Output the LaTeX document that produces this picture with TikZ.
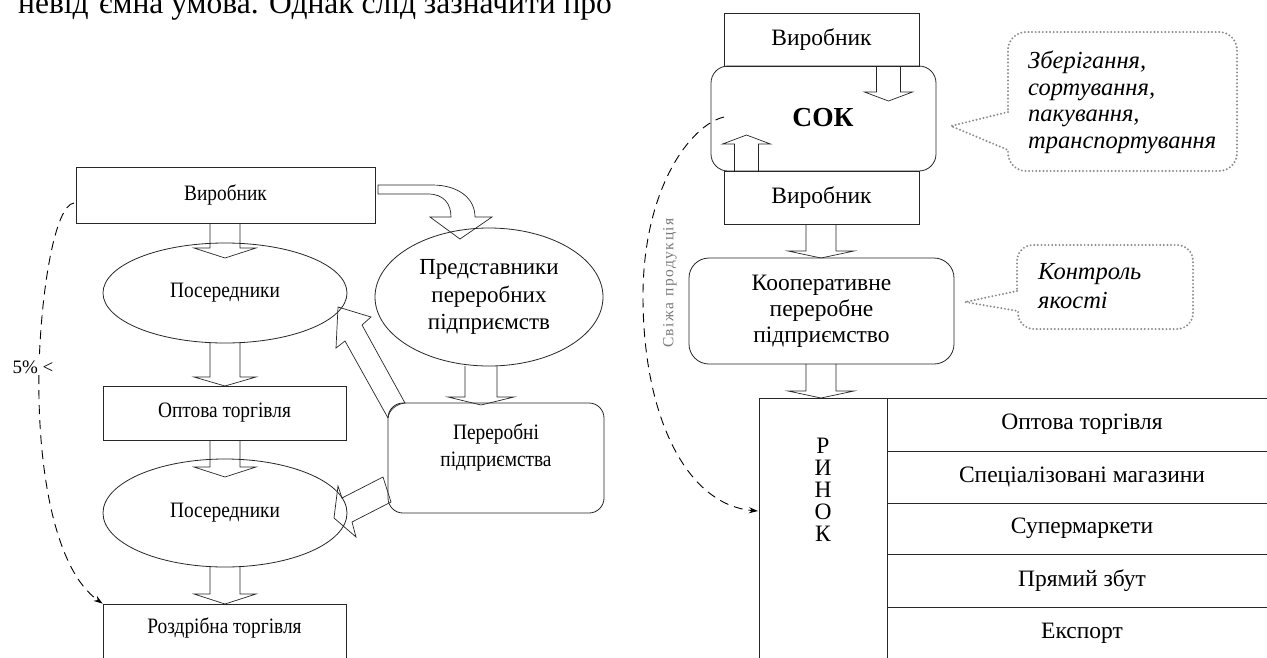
\documentclass[tikz,border=0pt]{standalone}
\usepackage{fontspec}
\setmainfont{Liberation Serif}
\newfontfamily\condfont[FakeStretch=0.88]{Liberation Serif}
\usetikzlibrary{arrows.meta,shapes.geometric,calc}
\newcommand\vblk[6]{\draw[blk] (#1-#5,#2) -- (#1-#5,#3) -- (#1-#6,#3) -- (#1,#4) -- (#1+#6,#3) -- (#1+#5,#3) -- (#1+#5,#2);}
\begin{document}
\begin{tikzpicture}[x=1pt,y=-1pt,
  box/.style={draw=black!85, line width=0.8pt, inner sep=0pt, align=center},
  lfont/.style={font=\condfont\fontsize{22}{27}\selectfont},
  rfont/.style={font=\fontsize{23.5}{26}\selectfont},
  itfont/.style={font=\itshape\fontsize{24.5}{26}\selectfont, anchor=base west, inner sep=0pt},
  blk/.style={draw=black!85, line width=0.7pt, line join=miter},
  dashline/.style={draw=black, dash pattern=on 9pt off 6pt, line width=0.9pt},
  callout/.style={draw=gray!90, line width=2.2pt, dash pattern=on 0pt off 3.6pt, line cap=round}]
\useasboundingbox (0,0) rectangle (1267,657);

% top body text (cut off)
\node[anchor=base west, inner sep=0pt, font=\fontsize{31.5}{36}\selectfont] (toptext) at (18,13)
  {невід’ємна умова. Однак слід зазначити про};

% ---------------- left diagram ----------------
\node[box, minimum width=299pt, minimum height=56pt, lfont] (v1) at (225.5,195) {Виробник};
\node[box, ellipse, minimum width=244pt, minimum height=100pt, lfont] (p1) at (225,293) {Посередники};
\node[box, minimum width=243pt, minimum height=54pt, lfont] (opt) at (224.5,413) {Оптова торгівля};
\node[box, ellipse, minimum width=244pt, minimum height=108pt, lfont] (p2) at (225,513) {Посередники};
\node[box, minimum width=243pt, minimum height=80pt] (roz) at (224.5,644) {};
\node[lfont, inner sep=0pt] (rozt) at (224.5,628) {Роздрібна торгівля};
\node[box, ellipse, minimum width=228pt, minimum height=138pt, font=\fontsize{23}{27.5}\selectfont] (pr) at (489,297) {Представники\\переробних\\підприємств};
\node[box, rounded corners=15pt, minimum width=216pt, minimum height=110pt] (pp) at (496,458) {};
\node[lfont, align=center, inner sep=0pt] (ppt) at (496,447) {Переробні\\підприємства};

% block arrows, left column
\vblk{225}{223}{248}{258}{15}{31}
\vblk{225}{343}{377}{386}{15}{31}
\vblk{225}{440}{467}{477}{15}{31}
\vblk{225}{567}{594}{604}{15}{31}
\vblk{481}{366}{397}{405}{16}{33}

% curved arrow Виробник -> Представники
\draw[blk] (378,185) -- (432,185) .. controls (458,185) and (475,198) .. (475,217)
  -- (492,217) -- (460,239) -- (430,217) -- (451,217)
  .. controls (451,204) and (444,194) .. (428,194) -- (378,194) -- cycle;

% arrow Переробні -> Посередники (upper)
\draw[blk] (388,418) -- (345,341) -- (336,348) -- (338,307) -- (371,317) -- (362,325) -- (405,403)
  .. controls (396,404) and (389,410) .. (388,418);
% arrow Переробні -> Посередники (lower)
\draw[blk] (383,477) -- (342,498) -- (338,486) -- (334,518) -- (356,537) -- (352,522) -- (391,502) -- cycle;

% dashed 5% arrow
\coordinate (ds) at (74,203);
\draw[dashline, -{Stealth[length=9pt,width=6pt]}] (ds) .. controls (55,205) and (41,290) .. (39,368)
  .. controls (37,470) and (55,570) .. (roz.north west);
\node[fill=white, inner sep=1pt, font=\fontsize{19}{21}\selectfont] (pct) at (33,367) {5\%~<};

% ---------------- right diagram ----------------
\node[box, rounded corners=17pt, minimum width=225pt, minimum height=105pt] (sok) at (823.5,118.5) {};
\node[font=\bfseries\fontsize{27.5}{30}\selectfont, inner sep=0pt] (sokt) at (823,118) {СОК};
\node[box, minimum width=195pt, minimum height=53pt, rfont] (v2) at (821.5,39.5) {Виробник};
\node[box, minimum width=195pt, minimum height=53pt, rfont] (v3) at (821.5,197.5) {Виробник};
\node[box, rounded corners=20pt, minimum width=265pt, minimum height=106pt, rfont] (coop) at (821.5,311) {Кооперативне\\переробне\\підприємство};

\vblk{888.5}{66}{92}{101}{12}{24}
\vblk{746.5}{171}{144}{135}{12}{24}
\vblk{821}{224}{251}{258}{15}{33}
\vblk{821}{364}{391}{398}{15}{33}

% market table
\draw[box] (759,700) -- (759,398) -- (1280,398);
\draw[box] (887,398) -- (887,700);
\foreach \yy in {451,503,554.5,607} \draw[box] (887,\yy) -- (1280,\yy);
\node[align=center, inner sep=0pt, font=\fontsize{23.5}{22}\selectfont] (rin) at (823,490) {Р\\И\\Н\\О\\К};
\node[rfont] (m1) at (1082,424.5) {Оптова торгівля};
\node[rfont] (m2) at (1082,476.5) {Спеціалізовані магазини};
\node[rfont] (m3) at (1082,528.5) {Супермаркети};
\node[rfont] (m4) at (1082,581) {Прямий збут};
\node[rfont] (m5) at (1082,633) {Експорт};

% dashed fresh produce arrow
\coordinate (fs) at (724,117);
\coordinate (fe) at (758,511);
\draw[dashline, -{Stealth[length=9pt,width=6pt]}] (fs) .. controls (690,125) and (642,190) .. (643,300)
  .. controls (644,420) and (688,505) .. (fe);
\node[rotate=90, text=gray!95!black, font=\fontsize{15.5}{17}\selectfont\addfontfeatures{LetterSpace=10}] (fresh) at (670,283) {Свіжа продукція};

% callouts
\draw[callout] (1008,112) -- (951,126) -- (1008,150) [rounded corners=18pt] -- (1008,171) -- (1237,171) -- (1237,32) -- (1008,32) -- (1008,112);
\node[itfont] (c1a) at (1028,68) {Зберігання,};
\node[itfont] (c1b) at (1028,95) {сортування,};
\node[itfont] (c1c) at (1028,121.5) {пакування,};
\node[itfont] (c1d) at (1028,148) {транспортування};

\draw[callout] (1017,291) -- (965,302) -- (1018,311) [rounded corners=16pt] -- (1018,329) -- (1193,329) -- (1193,245) -- (1017,245) -- (1017,291);
\node[itfont] (c2a) at (1038,279) {Контроль};
\node[itfont] (c2b) at (1038,308) {якості};
\end{tikzpicture}
\end{document}
